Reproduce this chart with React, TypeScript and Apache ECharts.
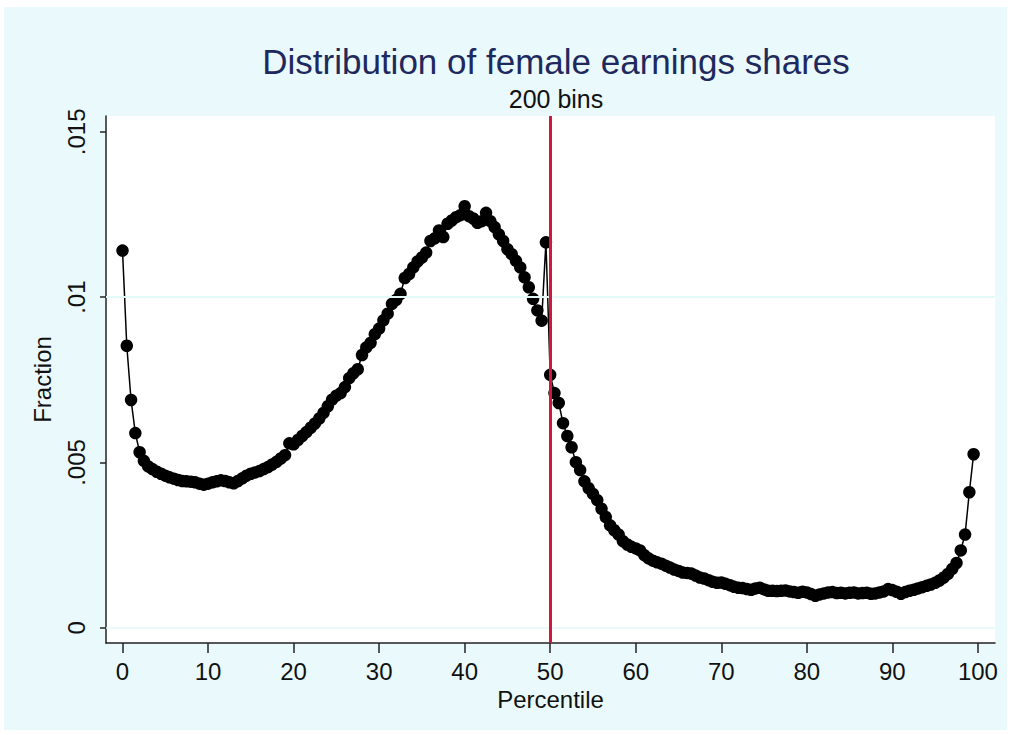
import React, { useEffect, useRef } from "react";
import * as echarts from "echarts";

const TITLE = "Distribution of female earnings shares";
const SUBTITLE = "200 bins";
const X_NAME = "Percentile";
const Y_NAME = "Fraction";

const X_TICKS = [0, 10, 20, 30, 40, 50, 60, 70, 80, 90, 100];
const Y_TICKS = [0, 0.005, 0.01, 0.015];
const Y_TICK_LABELS = ["0", ".005", ".01", ".015"];
const MEDIAN_LINE = [50];

const PERCENTILES = [
  0, 0.5, 1, 1.5, 2, 2.5, 3, 3.5, 4, 4.5,
  5, 5.5, 6, 6.5, 7, 7.5, 8, 8.5, 9, 9.5,
  10, 10.5, 11, 11.5, 12, 12.5, 13, 13.5, 14, 14.5,
  15, 15.5, 16, 16.5, 17, 17.5, 18, 18.5, 19, 19.5,
  20, 20.5, 21, 21.5, 22, 22.5, 23, 23.5, 24, 24.5,
  25, 25.5, 26, 26.5, 27, 27.5, 28, 28.5, 29, 29.5,
  30, 30.5, 31, 31.5, 32, 32.5, 33, 33.5, 34, 34.5,
  35, 35.5, 36, 36.5, 37, 37.5, 38, 38.5, 39, 39.5,
  40, 40.5, 41, 41.5, 42, 42.5, 43, 43.5, 44, 44.5,
  45, 45.5, 46, 46.5, 47, 47.5, 48, 48.5, 49, 49.5,
  50, 50.5, 51, 51.5, 52, 52.5, 53, 53.5, 54, 54.5,
  55, 55.5, 56, 56.5, 57, 57.5, 58, 58.5, 59, 59.5,
  60, 60.5, 61, 61.5, 62, 62.5, 63, 63.5, 64, 64.5,
  65, 65.5, 66, 66.5, 67, 67.5, 68, 68.5, 69, 69.5,
  70, 70.5, 71, 71.5, 72, 72.5, 73, 73.5, 74, 74.5,
  75, 75.5, 76, 76.5, 77, 77.5, 78, 78.5, 79, 79.5,
  80, 80.5, 81, 81.5, 82, 82.5, 83, 83.5, 84, 84.5,
  85, 85.5, 86, 86.5, 87, 87.5, 88, 88.5, 89, 89.5,
  90, 90.5, 91, 91.5, 92, 92.5, 93, 93.5, 94, 94.5,
  95, 95.5, 96, 96.5, 97, 97.5, 98, 98.5, 99, 99.5,
];

const FRACTION = [
  0.01141, 0.00853, 0.00689, 0.00589, 0.00531, 0.00505, 0.00488, 0.0048, 0.00472, 0.00466,
  0.0046, 0.00455, 0.00451, 0.00447, 0.00444, 0.00443, 0.00442, 0.0044, 0.00436, 0.00433,
  0.00436, 0.0044, 0.00443, 0.00446, 0.00444, 0.0044, 0.00437, 0.00444, 0.00452, 0.0046,
  0.00466, 0.0047, 0.00474, 0.0048, 0.00486, 0.00494, 0.00502, 0.00512, 0.00522, 0.00558,
  0.00555, 0.00568, 0.0058, 0.00592, 0.00605, 0.00618, 0.00633, 0.0065, 0.0067, 0.0069,
  0.00702, 0.0071, 0.00728, 0.00755, 0.0077, 0.00782, 0.00825, 0.00848, 0.00862, 0.00888,
  0.00905, 0.0093, 0.0095, 0.0098, 0.00992, 0.0101, 0.01058, 0.0107, 0.0109, 0.01108,
  0.0112, 0.01135, 0.0117, 0.01178, 0.01202, 0.01182, 0.01222, 0.01232, 0.01242, 0.01248,
  0.01275, 0.01245, 0.01238, 0.01225, 0.0123, 0.01255, 0.0123, 0.01212, 0.0119, 0.0117,
  0.01145, 0.0113, 0.0111, 0.0109, 0.0106, 0.0103, 0.00995, 0.0096, 0.00929, 0.01166,
  0.00765, 0.0071, 0.0068, 0.00619, 0.0058, 0.00546, 0.00501, 0.00477, 0.00443, 0.00422,
  0.00405, 0.00386, 0.0036, 0.00335, 0.0031, 0.00295, 0.00282, 0.00262, 0.00252, 0.00245,
  0.0024, 0.00234, 0.0022, 0.0021, 0.00203, 0.00198, 0.00194, 0.00188, 0.00182, 0.00176,
  0.00172, 0.00167, 0.00166, 0.00164, 0.00158, 0.00152, 0.00149, 0.00144, 0.00139, 0.00136,
  0.00137, 0.00133, 0.00129, 0.00124, 0.00121, 0.0012, 0.00117, 0.00115, 0.00119, 0.00121,
  0.00116, 0.00112, 0.00112, 0.00111, 0.00112, 0.00113, 0.0011, 0.00108, 0.00106, 0.00109,
  0.00107, 0.00102, 0.00097, 0.00101, 0.00104, 0.00107, 0.00108, 0.00105, 0.00106, 0.00104,
  0.00106, 0.00107, 0.00104, 0.00105, 0.00106, 0.00103, 0.00104, 0.00107, 0.0011, 0.00117,
  0.00114, 0.00109, 0.00103, 0.00108, 0.00112, 0.00115, 0.00119, 0.00123, 0.00127, 0.00131,
  0.00136, 0.00143, 0.00152, 0.00163, 0.00178, 0.00196, 0.00234, 0.00282, 0.0041, 0.00525,
];

const FONT = '"Liberation Sans", Arial, Helvetica, sans-serif';
const OUTER_BG = "#eafafc";
const GRID_COLOR = "#e4f8fa";

export default function App() {
  const ref = useRef<HTMLDivElement>(null);

  useEffect(() => {
    if (!ref.current) return;
    const chart = echarts.init(ref.current, undefined, { renderer: "svg" });
    const points = PERCENTILES.map((p, i) => [p, FRACTION[i]]);
    chart.setOption({
      animation: false,
      backgroundColor: OUTER_BG,
      title: [
        {
          text: TITLE,
          left: 547,
          top: 32,
          textAlign: "center",
          textStyle: { fontFamily: FONT, fontSize: 35, fontWeight: "normal", color: "#1e2a5e" },
        },
        {
          text: SUBTITLE,
          left: 547,
          top: 74,
          textAlign: "center",
          textStyle: { fontFamily: FONT, fontSize: 25, fontWeight: "normal", color: "#111" },
        },
      ],
      grid: {
        left: 102,
        top: 109,
        right: 12,
        bottom: 87,
        show: true,
        backgroundColor: "#ffffff",
        borderWidth: 0,
        containLabel: false,
        outerBoundsMode: "none",
      },
      xAxis: {
        type: "value",
        min: -1.93,
        max: 102,
        name: X_NAME,
        nameLocation: "middle",
        nameGap: 44,
        nameTextStyle: { fontFamily: FONT, fontSize: 24, color: "#111" },
        axisLine: { show: true, onZero: false, lineStyle: { color: "#222", width: 1.5 } },
        axisTick: { show: true, length: 10, customValues: X_TICKS, lineStyle: { color: "#222", width: 1.5 } },
        axisLabel: {
          customValues: X_TICKS,
          margin: 16,
          fontFamily: FONT,
          fontSize: 24,
          color: "#111",
        },
        splitLine: { show: false },
      },
      yAxis: {
        type: "value",
        min: -0.00046,
        max: 0.01548,
        name: Y_NAME,
        nameLocation: "middle",
        nameGap: 52,
        nameRotate: 90,
        nameTextStyle: { fontFamily: FONT, fontSize: 24, color: "#111" },
        axisLine: { show: true, onZero: false, lineStyle: { color: "#222", width: 1.5 } },
        axisTick: { show: true, length: 6, customValues: Y_TICKS, lineStyle: { color: "#222", width: 1.5 } },
        axisLabel: {
          customValues: Y_TICKS,
          rotate: 90,
          margin: 18,
          fontFamily: FONT,
          fontSize: 24,
          color: "#111",
          formatter: (v: number) => {
            const idx = Y_TICKS.findIndex((t) => Math.abs(t - v) < 1e-9);
            return idx >= 0 ? Y_TICK_LABELS[idx] : "";
          },
        },
        splitLine: { show: false },
      },
      series: [
        {
          type: "line",
          data: [],
          silent: true,
          z: 1,
          markLine: {
            silent: true,
            symbol: "none",
            label: { show: false },
            lineStyle: { color: GRID_COLOR, width: 1.5, type: "solid" },
            data: Y_TICKS.map((t) => ({ yAxis: t })),
          },
        },
        {
          type: "line",
          data: points,
          z: 3,
          symbol: "circle",
          symbolSize: 12.5,
          showAllSymbol: true,
          itemStyle: { color: "#000" },
          lineStyle: { color: "#000", width: 1.5 },
          markLine: {
            silent: true,
            symbol: "none",
            label: { show: false },
            lineStyle: { color: "#d0183f", width: 3, type: "solid" },
            data: MEDIAN_LINE.map((m) => ({ xAxis: m })),
          },
        },
      ],
    });
    return () => chart.dispose();
  }, []);

  return (
    <div
      ref={ref}
      style={{ position: "absolute", left: 4, top: 7, width: 1003, height: 723 }}
    />
  );
}
